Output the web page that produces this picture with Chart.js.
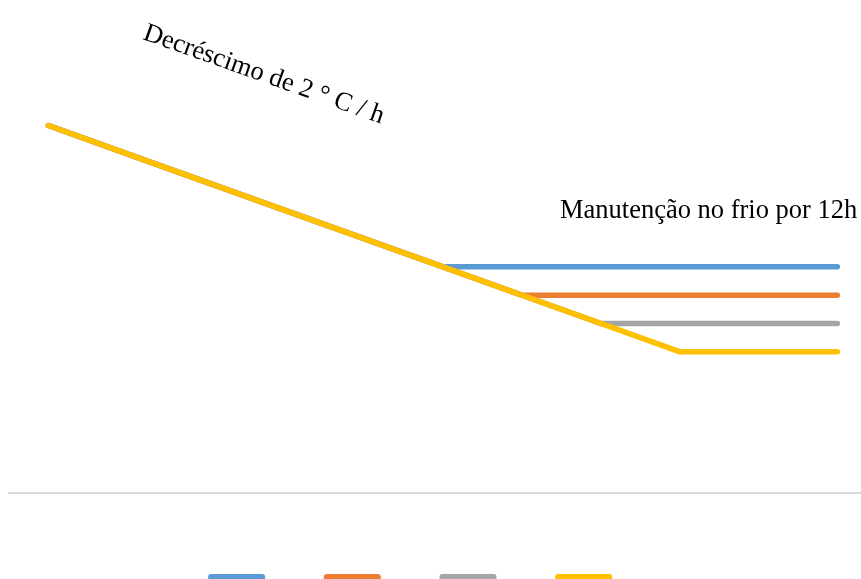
<!DOCTYPE html>
<html>
<head>
<meta charset="utf-8">
<script src="https://cdn.jsdelivr.net/npm/chart.js@4"></script>
<style>
  html, body { margin: 0; padding: 0; background: #fff; overflow: hidden; }
</style>
</head>
<body>
<canvas id="dataChart" width="861" height="640"></canvas>
<script>
// hours on the x axis
var hours = [0, 1, 2, 3, 4, 5, 6, 7, 8, 9, 10];

// temperature (°C) of each series
var serie1 = [26, 24, 22, 20, 18, 16, 16, 16, 16, 16, 16];
var serie2 = [26, 24, 22, 20, 18, 16, 14, 14, 14, 14, 14];
var serie3 = [26, 24, 22, 20, 18, 16, 14, 12, 12, 12, 12];
var serie4 = [26, 24, 22, 20, 18, 16, 14, 12, 10, 10, 10];

var seriesNames = ['Série1', 'Série2', 'Série3', 'Série4'];

var noteRate = 'Decréscimo de 2 ° C / h';
var noteCold = 'Manutenção no frio por 12h';

function toPoints(values) {
  return values.map(function(v, i) { return { x: hours[i], y: v }; });
}

// text notes drawn over the chart
var notesPlugin = {
  id: 'notes',
  afterDraw: function(chart) {
    var ctx = chart.ctx;
    ctx.save();
    ctx.fillStyle = '#000';
    ctx.textBaseline = 'alphabetic';
    ctx.font = '26.5px "Liberation Serif", "Times New Roman", serif';
    ctx.fillText(noteCold, 560, 218);
    ctx.translate(142, 39);
    ctx.rotate(19.5 * Math.PI / 180);
    ctx.fillText(noteRate, 0, 0);
    ctx.restore();
  }
};

function lineSet(label, values, color, order) {
  return {
    label: label,
    data: toPoints(values),
    borderColor: color,
    backgroundColor: color,
    borderWidth: 5.5,
    borderCapStyle: 'round',
    pointRadius: 0,
    pointHoverRadius: 0,
    tension: 0,
    fill: false,
    order: order
  };
}

var ctx = document.getElementById('dataChart');
var myChart = new Chart(ctx, {
  type: 'line',
  data: {
    datasets: [
      lineSet(seriesNames[0], serie1, '#5B9BD5', 4),
      lineSet(seriesNames[1], serie2, '#ED7D31', 3),
      lineSet(seriesNames[2], serie3, '#A5A5A5', 2),
      lineSet(seriesNames[3], serie4, '#FFC000', 1)
    ]
  },
  options: {
    responsive: false,
    animation: false,
    layout: { padding: { left: 0, right: 0, top: 69, bottom: 26 } },
    scales: {
      x: {
        type: 'linear',
        min: -0.5,
        max: 10.3,
        ticks: { display: false },
        grid: { display: false },
        border: { display: true, color: '#d9d9d9', width: 2 },
        afterFit: function(scale) { scale.height = 63; }
      },
      y: {
        min: 0,
        max: 30,
        ticks: { display: false },
        grid: { display: false },
        border: { display: false },
        afterFit: function(scale) { scale.width = 9; }
      }
    },
    plugins: {
      tooltip: { enabled: false },
      legend: {
        position: 'bottom',
        labels: {
          boxWidth: 57,
          boxHeight: 30,
          padding: 18,
          useBorderRadius: true,
          borderRadius: 3,
          color: '#595959',
          font: { size: 12, family: 'Liberation Sans, Arial, sans-serif' },
          generateLabels: function(chart) {
            var items = Chart.defaults.plugins.legend.labels.generateLabels(chart);
            items.forEach(function(item) { item.lineWidth = 0; });
            return items;
          },
          sort: function(a, b) { return a.datasetIndex - b.datasetIndex; }
        }
      }
    }
  },
  plugins: [notesPlugin]
});
</script>
</body>
</html>
